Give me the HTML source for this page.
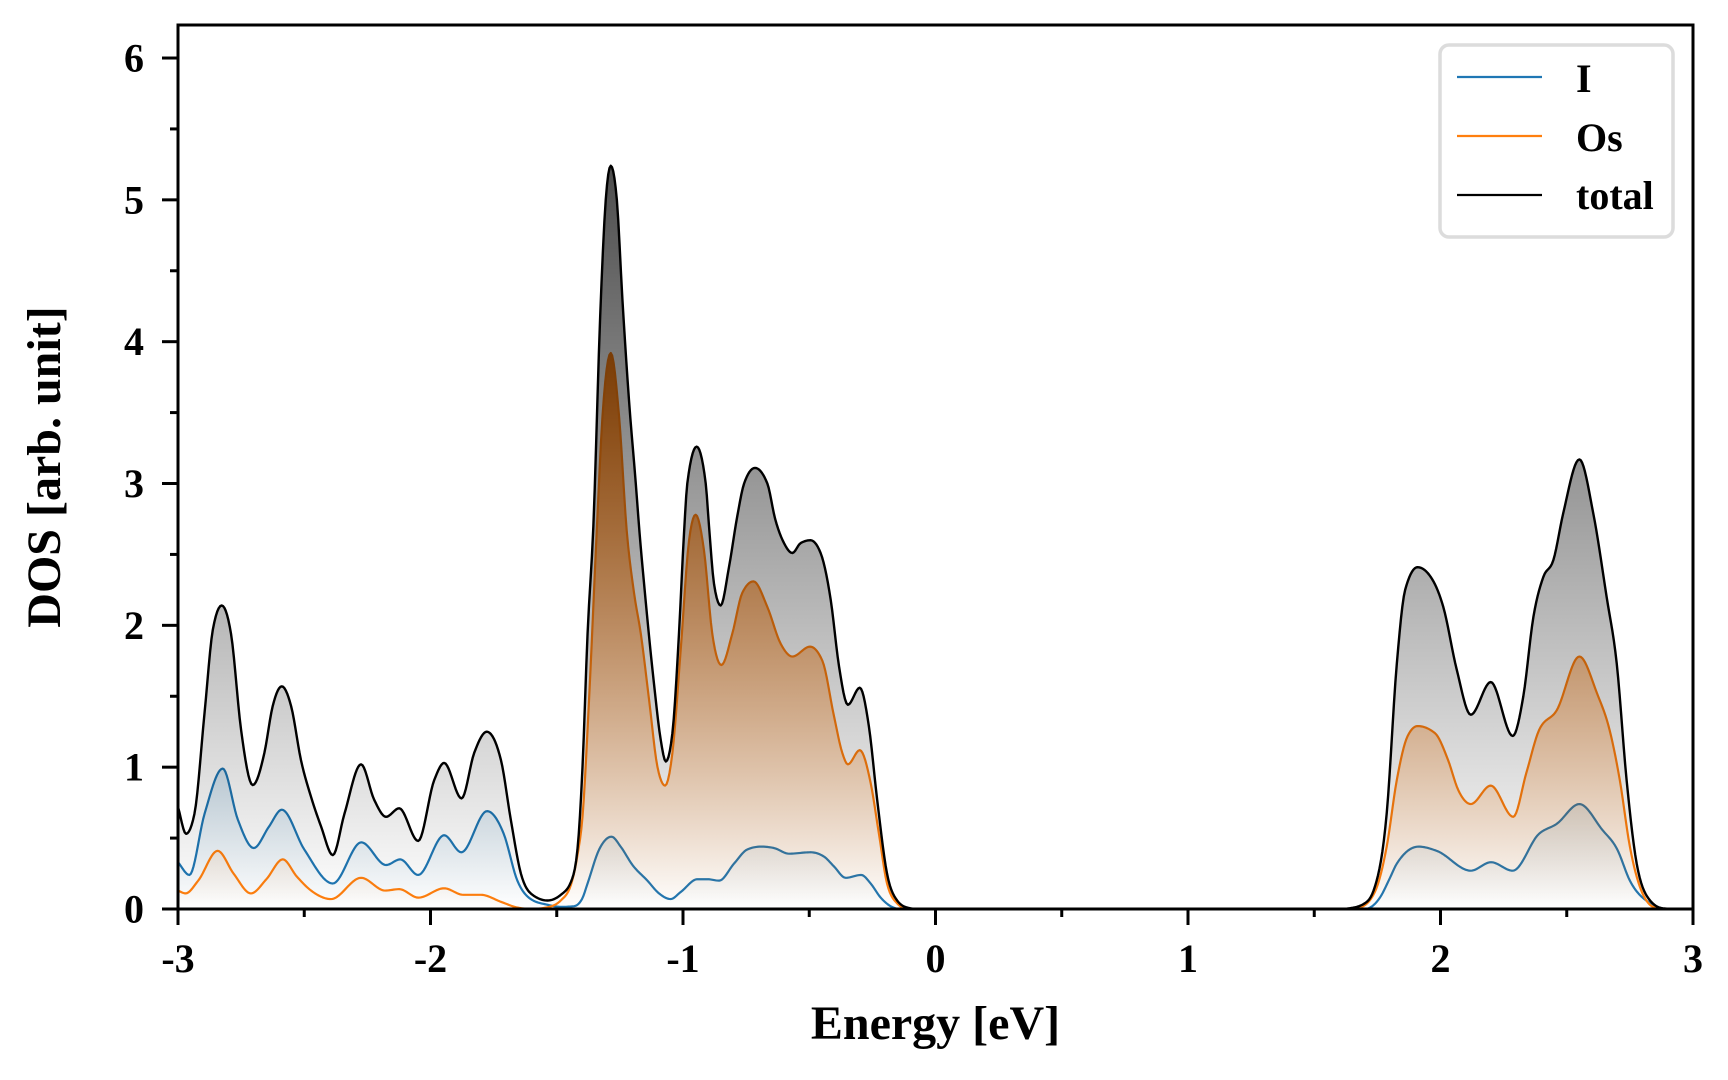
<!DOCTYPE html>
<html><head><meta charset="utf-8">
<style>
html,body{margin:0;padding:0;background:#fff;}
svg{display:block;}
text{font-family:"Liberation Serif","Times New Roman",serif;font-weight:bold;fill:#000;}
</style></head><body>
<svg id="c" width="1728" height="1080" viewBox="0 0 1728 1080" xmlns="http://www.w3.org/2000/svg">
<defs>
<clipPath id="ax"><rect x="178" y="25" width="1515" height="884"/></clipPath>
<linearGradient id="gI" gradientUnits="userSpaceOnUse" x1="0" y1="909" x2="0" y2="768.6">
<stop offset="0" stop-color="#1f77b4" stop-opacity="0"/><stop offset="1" stop-color="#1f77b4" stop-opacity="0.19"/></linearGradient>
<linearGradient id="gO" gradientUnits="userSpaceOnUse" x1="0" y1="909" x2="0" y2="353">
<stop offset="0" stop-color="#ff7f0e" stop-opacity="0"/><stop offset="1" stop-color="#ff7f0e" stop-opacity="1"/></linearGradient>
<linearGradient id="gT" gradientUnits="userSpaceOnUse" x1="0" y1="909" x2="0" y2="165.8">
<stop offset="0" stop-color="#000" stop-opacity="0"/><stop offset="1" stop-color="#000" stop-opacity="0.7"/></linearGradient>
</defs>
<rect x="0" y="0" width="1728" height="1080" fill="#fff"/>
<g clip-path="url(#ax)">
<path id="fI" fill="url(#gI)" stroke="none"/>
<path id="lI" fill="none" stroke="#1f77b4" stroke-width="2.2" stroke-linejoin="round"/>
<path id="fO" fill="url(#gO)" stroke="none"/>
<path id="lO" fill="none" stroke="#ff7f0e" stroke-width="2.2" stroke-linejoin="round"/>
<path id="fT" fill="url(#gT)" stroke="none"/>
<path id="lT" fill="none" stroke="#000" stroke-width="2.4" stroke-linejoin="round"/>
</g>
<rect x="178" y="25" width="1515" height="884" fill="none" stroke="#000" stroke-width="3"/>
<g id="ticks" stroke="#000" stroke-width="3"></g>
<g id="tlab" font-size="40"></g>
<text transform="translate(60,467) rotate(-90)" text-anchor="middle" font-size="48">DOS [arb. unit]</text>
<text x="935.5" y="1039" text-anchor="middle" font-size="48">Energy [eV]</text>
<rect x="1440" y="45" width="233" height="192" rx="9" ry="9" fill="#fff" fill-opacity="0.85" stroke="#dcdcdc" stroke-width="3.5"/>
<line x1="1457" y1="77" x2="1542" y2="77" stroke="#1f77b4" stroke-width="2.2"/>
<line x1="1457" y1="136" x2="1542" y2="136" stroke="#ff7f0e" stroke-width="2.2"/>
<line x1="1457" y1="195" x2="1542" y2="195" stroke="#000" stroke-width="2.2"/>
<text x="1576" y="92" font-size="40">I</text>
<text x="1576" y="151" font-size="40">Os</text>
<text x="1576" y="209" font-size="40">total</text>
</svg>
<script>
(function(){
var X0=178,XS=252.5,Y0=909,YS=141.83;
function px(x){return X0+(x+3)*XS;}
function py(y){return Y0-y*YS;}
var T=[[-3.0,0.72],[-2.968,0.53],[-2.935,0.67],[-2.895,1.38],[-2.862,1.97],[-2.827,2.14],[-2.79,1.94],[-2.75,1.26],[-2.704,0.874],[-2.658,1.10],[-2.625,1.43],[-2.589,1.57],[-2.552,1.43],[-2.513,1.05],[-2.473,0.79],[-2.433,0.58],[-2.387,0.38],[-2.341,0.67],[-2.275,1.02],[-2.223,0.77],[-2.176,0.65],[-2.124,0.71],[-2.049,0.48],[-1.985,0.91],[-1.946,1.03],[-1.877,0.78],[-1.827,1.10],[-1.777,1.25],[-1.721,1.05],[-1.682,0.63],[-1.642,0.25],[-1.603,0.11],[-1.537,0.06],[-1.484,0.10],[-1.444,0.19],[-1.418,0.42],[-1.398,1.00],[-1.378,1.94],[-1.355,2.70],[-1.328,4.18],[-1.306,5.0],[-1.286,5.24],[-1.262,5.0],[-1.240,4.30],[-1.214,3.59],[-1.187,3.0],[-1.172,2.65],[-1.154,2.29],[-1.115,1.59],[-1.088,1.19],[-1.068,1.04],[-1.042,1.24],[-1.016,1.94],[-0.996,2.65],[-0.983,3.0],[-0.946,3.26],[-0.910,3.0],[-0.897,2.7],[-0.877,2.29],[-0.851,2.14],[-0.818,2.41],[-0.785,2.77],[-0.758,3.0],[-0.715,3.11],[-0.666,3.0],[-0.635,2.75],[-0.60,2.58],[-0.567,2.51],[-0.534,2.58],[-0.495,2.60],[-0.455,2.51],[-0.415,2.18],[-0.382,1.71],[-0.347,1.44],[-0.300,1.56],[-0.264,1.29],[-0.231,0.77],[-0.192,0.25],[-0.152,0.06],[-0.112,0.01],[-0.07,0],[1.60,0],[1.64,0.005],[1.70,0.04],[1.735,0.13],[1.787,0.675],[1.827,1.73],[1.86,2.25],[1.909,2.41],[1.972,2.31],[2.011,2.13],[2.064,1.69],[2.12,1.37],[2.199,1.60],[2.286,1.22],[2.328,1.50],[2.368,2.06],[2.407,2.34],[2.447,2.46],[2.486,2.79],[2.550,3.17],[2.605,2.79],[2.658,2.20],[2.698,1.73],[2.737,0.91],[2.777,0.32],[2.83,0.06],[2.88,0.005],[2.93,0],[3.0,0]];
var O=[[-3.0,0.13],[-2.97,0.11],[-2.92,0.2],[-2.843,0.41],[-2.78,0.25],[-2.711,0.11],[-2.65,0.21],[-2.585,0.35],[-2.53,0.23],[-2.473,0.13],[-2.394,0.07],[-2.275,0.22],[-2.18,0.13],[-2.124,0.14],[-2.048,0.08],[-1.946,0.146],[-1.87,0.10],[-1.80,0.10],[-1.72,0.05],[-1.66,0.012],[-1.60,0.0],[-1.537,0.012],[-1.484,0.06],[-1.444,0.17],[-1.418,0.38],[-1.398,0.65],[-1.372,1.48],[-1.342,2.65],[-1.319,3.47],[-1.286,3.92],[-1.253,3.47],[-1.223,2.67],[-1.194,2.23],[-1.167,1.94],[-1.134,1.47],[-1.101,1.00],[-1.071,0.87],[-1.042,1.10],[-1.009,1.83],[-0.976,2.60],[-0.950,2.78],[-0.917,2.53],[-0.884,1.94],[-0.848,1.72],[-0.805,1.94],[-0.765,2.23],[-0.721,2.31],[-0.666,2.13],[-0.613,1.87],[-0.567,1.78],[-0.497,1.85],[-0.448,1.75],[-0.402,1.36],[-0.369,1.10],[-0.347,1.02],[-0.300,1.12],[-0.257,0.89],[-0.224,0.53],[-0.192,0.18],[-0.152,0.04],[-0.11,0],[1.64,0],[1.68,0.01],[1.74,0.12],[1.787,0.44],[1.827,0.91],[1.87,1.22],[1.909,1.29],[1.978,1.24],[2.03,1.05],[2.07,0.84],[2.12,0.74],[2.199,0.87],[2.288,0.65],[2.34,0.96],[2.39,1.26],[2.46,1.40],[2.55,1.78],[2.62,1.52],[2.67,1.26],[2.71,0.91],[2.75,0.44],[2.80,0.11],[2.85,0.01],[2.9,0],[3.0,0]];
var I=[[-3.0,0.33],[-2.955,0.24],[-2.895,0.67],[-2.823,0.99],[-2.763,0.63],[-2.70,0.43],[-2.64,0.58],[-2.589,0.70],[-2.50,0.42],[-2.387,0.18],[-2.274,0.47],[-2.176,0.31],[-2.12,0.35],[-2.049,0.24],[-1.946,0.52],[-1.878,0.40],[-1.776,0.69],[-1.71,0.53],[-1.656,0.20],[-1.603,0.07],[-1.537,0.03],[-1.48,0.015],[-1.431,0.02],[-1.40,0.07],[-1.378,0.18],[-1.332,0.42],[-1.283,0.51],[-1.247,0.44],[-1.200,0.31],[-1.141,0.20],[-1.095,0.11],[-1.049,0.07],[-1.009,0.12],[-0.943,0.21],[-0.903,0.21],[-0.857,0.20],[-0.798,0.32],[-0.745,0.42],[-0.692,0.44],[-0.640,0.43],[-0.580,0.39],[-0.495,0.40],[-0.442,0.37],[-0.402,0.30],[-0.356,0.22],[-0.294,0.24],[-0.257,0.18],[-0.217,0.08],[-0.178,0.02],[-0.14,0],[1.70,0],[1.76,0.08],[1.80,0.22],[1.827,0.32],[1.913,0.44],[1.985,0.41],[2.12,0.27],[2.2,0.33],[2.286,0.27],[2.39,0.53],[2.46,0.60],[2.55,0.74],[2.64,0.56],[2.70,0.42],[2.75,0.20],[2.83,0.04],[2.88,0],[3.0,0]];
function sg(v){return v>0?1:(v<0?-1:0);}
function mono(pts){
  pts=pts.slice().sort(function(a,b){return a[0]-b[0];});
  var n=pts.length,xs=[],ys=[],h=[],s=[],t=[],i;
  for(i=0;i<n;i++){xs.push(pts[i][0]);ys.push(pts[i][1]);}
  for(i=0;i<n-1;i++){h[i]=xs[i+1]-xs[i];s[i]=(ys[i+1]-ys[i])/h[i];}
  t[0]=s[0];t[n-1]=s[n-2];
  for(i=1;i<n-1;i++){
    var p=(s[i-1]*h[i]+s[i]*h[i-1])/(h[i-1]+h[i]);
    t[i]=(sg(s[i-1])+sg(s[i]))*Math.min(Math.abs(s[i-1]),Math.abs(s[i]),0.5*Math.abs(p))||0;
  }
  var out=[];
  for(i=0;i<n-1;i++){
    var N=Math.max(2,Math.ceil((px(xs[i+1])-px(xs[i]))/1.5));
    for(var k=(i==0?0:1);k<=N;k++){
      var u=k/N,hh=h[i],u2=u*u,u3=u2*u;
      var y=(2*u3-3*u2+1)*ys[i]+(u3-2*u2+u)*hh*t[i]+(-2*u3+3*u2)*ys[i+1]+(u3-u2)*hh*t[i+1];
      out.push([px(xs[i]+u*hh),py(Math.max(0,y))]);
    }
  }
  return out;
}
function build(pts,lid,fid){
  var o=mono(pts),d="M"+o[0][0].toFixed(2)+" "+o[0][1].toFixed(2);
  for(var i=1;i<o.length;i++){d+="L"+o[i][0].toFixed(2)+" "+o[i][1].toFixed(2);}
  document.getElementById(lid).setAttribute("d",d);
  var f="M"+px(-3).toFixed(2)+" "+py(0)+"L"+d.slice(1)+"L"+px(3).toFixed(2)+" "+py(0)+"Z";
  document.getElementById(fid).setAttribute("d",f);
}
build(I,"lI","fI");build(O,"lO","fO");build(T,"lT","fT");
var NS="http://www.w3.org/2000/svg",tk=document.getElementById("ticks"),tl=document.getElementById("tlab");
function ln(x1,y1,x2,y2){var l=document.createElementNS(NS,"line");l.setAttribute("x1",x1);l.setAttribute("y1",y1);l.setAttribute("x2",x2);l.setAttribute("y2",y2);tk.appendChild(l);}
function tx(x,y,s,a){var e=document.createElementNS(NS,"text");e.setAttribute("x",x);e.setAttribute("y",y);e.setAttribute("text-anchor",a);e.textContent=s;tl.appendChild(e);}
var k;
for(k=0;k<=6;k++){var yy=py(k);ln(162,yy,178,yy);tx(144,(yy+13.5).toFixed(1),String(k),"end");}
for(k=0;k<6;k++){var ym=py(k+0.5);ln(170,ym,178,ym);}
for(k=-3;k<=3;k++){var xx=px(k);ln(xx,909,xx,925);tx(xx.toFixed(1),972,String(k),"middle");}
for(k=-3;k<3;k++){var xm=px(k+0.5);ln(xm,909,xm,917);}
})();
</script>
</body></html>
